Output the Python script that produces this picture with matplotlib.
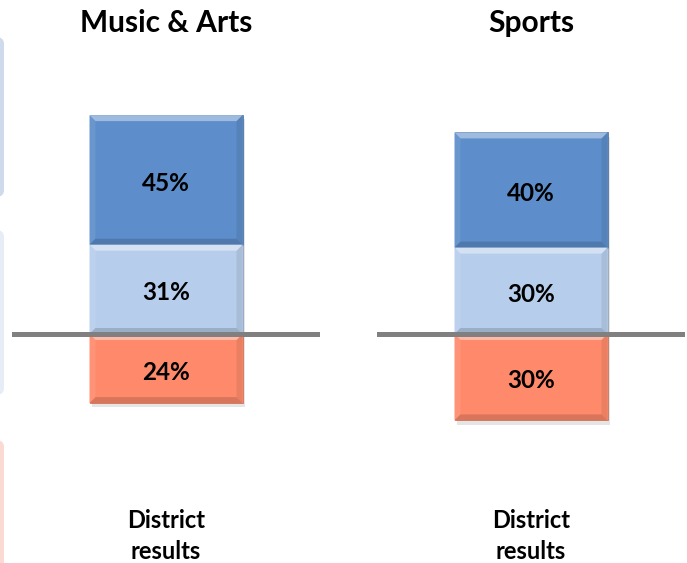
import matplotlib
matplotlib.use("Agg")
import matplotlib.pyplot as plt
import matplotlib.patheffects as pe
from matplotlib.patches import Polygon, FancyBboxPatch
from matplotlib.colors import to_rgb
import numpy as np

# ---- data ----
categories = ["Music & Arts", "Sports"]
negative = [24, 30]   # below the line (orange)
neutral = [31, 30]    # light blue
positive = [45, 40]   # dark blue
bottom_label = "District\nresults"

col_pos = "#5d8dca"
col_neu = "#b6cdeb"
col_neg = "#ff8a6b"

FONT = "Lato"
W, H = 687, 563
fig = plt.figure(figsize=(W / 100, H / 100), dpi=100)
fig.patch.set_facecolor("white")

def fx(px):
    return px / W

def fy(py):
    return 1 - py / H

# faint decorations at the left edge (cropped slide panels)
for (y0, y1, c) in [(37, 197, "#cfdaec"), (230, 395, "#e6edf7"), (440, 590, "#fadad2")]:
    fig.patches.append(FancyBboxPatch((fx(-20), fy(y1)), fx(24), (y1 - y0) / H,
                                      boxstyle="round,pad=0,rounding_size=0.012",
                                      transform=fig.transFigure, facecolor=c,
                                      edgecolor="none", zorder=0))

PX_PER_UNIT = 2.88
ZERO_PX = 334
AX_TOP, AX_BOT = 60, 480
ylim = (-(AX_BOT - ZERO_PX) / PX_PER_UNIT, (ZERO_PX - AX_TOP) / PX_PER_UNIT)
AX_W = 308
ax_left_px = [12, 377]
BAR_W = 153 / AX_W
LABEL_SHIFT = 3.5 / PX_PER_UNIT


def blend(c, other, t):
    a = np.array(to_rgb(c))
    b = np.array(to_rgb(other))
    return tuple(a * (1 - t) + b * t)


def bevel(ax, x0, x1, y0, y1, color):
    bx = 6 / AX_W
    by = 6 / PX_PER_UNIT
    top = [(x0, y1), (x1, y1), (x1 - bx, y1 - by), (x0 + bx, y1 - by)]
    bot = [(x0, y0), (x1, y0), (x1 - bx, y0 + by), (x0 + bx, y0 + by)]
    lft = [(x0, y0), (x0, y1), (x0 + bx, y1 - by), (x0 + bx, y0 + by)]
    rgt = [(x1, y0), (x1, y1), (x1 - bx, y1 - by), (x1 - bx, y0 + by)]
    for pts, c in [(lft, blend(color, "white", 0.08)), (rgt, blend(color, "black", 0.08)),
                   (top, blend(color, "white", 0.40)), (bot, blend(color, "black", 0.15))]:
        ax.add_patch(Polygon(pts, closed=True, facecolor=c, edgecolor="none", zorder=3))


shadow = [pe.SimplePatchShadow(offset=(2, -3), shadow_rgbFace="#999999", alpha=0.25), pe.Normal()]

for i, cat in enumerate(categories):
    ax = fig.add_axes([fx(ax_left_px[i]), fy(AX_BOT), AX_W / W, (AX_BOT - AX_TOP) / H])
    ax.set_xlim(-0.5, 0.5)
    ax.set_ylim(*ylim)
    ax.axis("off")
    segs = [
        (neutral[i], positive[i], col_pos),
        (0, neutral[i], col_neu),
        (-negative[i], negative[i], col_neg),
    ]
    for bottom, height, c in segs:
        bars = ax.bar([0], [height], bottom=[bottom], width=BAR_W, color=c,
                      edgecolor=blend(c, "black", 0.25), linewidth=0.5, zorder=2)
        for b in bars:
            b.set_path_effects(shadow)
            x0 = b.get_x()
            bevel(ax, x0, x0 + b.get_width(), bottom, bottom + height, c)
        ax.text(0, bottom + height / 2 - LABEL_SHIFT, f"{height}%", ha="center", va="center",
                fontsize=17.5, fontweight="bold", family=FONT, color="black", zorder=5)
    ax.axhline(0, color="#808080", linewidth=3.6, zorder=4)

    cx = ax_left_px[i] + AX_W / 2
    fig.text(fx(cx), fy(23), cat, ha="center", va="center", fontsize=21.5,
             fontweight="bold", family=FONT)
    fig.text(fx(cx), fy(536), bottom_label, ha="center", va="center", fontsize=17,
             fontweight="bold", family=FONT, linespacing=1.42)

fig.savefig("out.png", dpi=100, facecolor="white")
